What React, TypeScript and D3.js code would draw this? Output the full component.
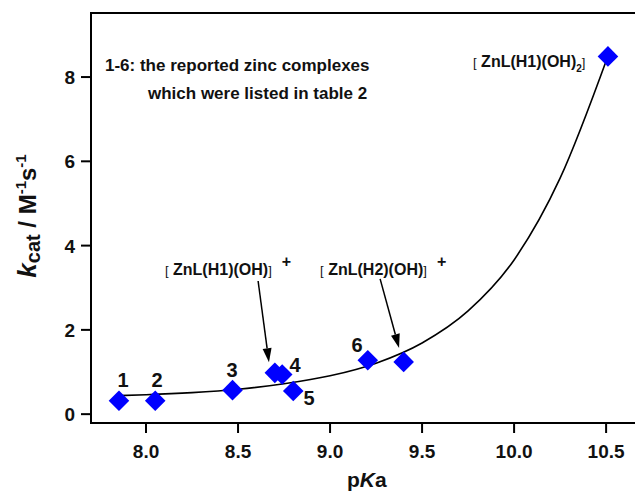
import React from "react";
import * as d3 from "d3";

// Data points (pKa, kcat)
const pointPKa = [7.853, 8.05, 8.47, 8.70, 8.74, 8.80, 9.205, 9.40, 10.51];
const pointK = [0.32, 0.32, 0.57, 0.98, 0.94, 0.55, 1.28, 1.24, 8.49];

// Fitted curve
const curvePKa = [7.85, 8.0, 8.25, 8.5, 8.75, 9.0, 9.25, 9.5, 9.75, 10.0, 10.25, 10.51];
const curveK = [0.44, 0.46, 0.51, 0.59, 0.72, 0.91, 1.21, 1.69, 2.45, 3.66, 5.6, 8.5];

// Numbered labels
const numText = ["1", "2", "3", "4", "5", "6"];
const numPKa = [7.875, 8.06, 8.467, 8.81, 8.886, 9.147];
const numK = [0.64, 0.64, 0.88, 1.0, 0.21, 1.47];

// Axis ticks
const xTicks = [8.0, 8.5, 9.0, 9.5, 10.0, 10.5];
const yTicks = [0, 2, 4, 6, 8];

// Arrows (start pKa, start k, end pKa, end k)
const arrowFromPKa = [8.609, 9.272];
const arrowFromK = [3.16, 3.21];
const arrowToPKa = [8.668, 9.375];
const arrowToK = [1.23, 1.57];

const W = 635;
const H = 498;
const FONT = "'Liberation Sans', Arial, Helvetica, sans-serif";

export default function App() {
  const x = d3.scaleLinear().domain([7.701, 10.657]).range([91, 635]);
  const y = d3.scaleLinear().domain([-0.21, 9.52]).range([423, 13]);

  const curveData = curvePKa.map((p, i) => [p, curveK[i]] as [number, number]);
  const line = d3
    .line<[number, number]>()
    .x((d) => x(d[0]))
    .y((d) => y(d[1]))
    .curve(d3.curveMonotoneX);

  const diamond = d3.symbol().type(d3.symbolDiamond2).size(270)();

  const [x0, x1] = x.range();
  const [yb, yt] = y.range();

  const arrows = arrowFromPKa.map((p, i) => {
    const sx = x(p), sy = y(arrowFromK[i]);
    const ex = x(arrowToPKa[i]), ey = y(arrowToK[i]);
    const ang = Math.atan2(ey - sy, ex - sx);
    const len = 14, half = 4.5;
    const bx = ex - len * Math.cos(ang), by = ey - len * Math.sin(ang);
    const px = -Math.sin(ang) * half, py = Math.cos(ang) * half;
    return { sx, sy, bx, by, ex, ey, head: `M${ex},${ey}L${bx + px},${by + py}L${bx - px},${by - py}Z` };
  });

  return (
    <svg
      width={W}
      height={H}
      style={{ position: "absolute", left: 0, top: 0, background: "#fff" }}
      fontFamily={FONT}
    >
      {/* frame */}
      <line x1={x0} x2={x1} y1={yt} y2={yt} stroke="#000" strokeWidth={2} />
      <line x1={x0} x2={x1} y1={yb} y2={yb} stroke="#000" strokeWidth={2} />
      <line x1={x0} x2={x0} y1={yt - 1} y2={yb + 1} stroke="#000" strokeWidth={2} />

      {/* x ticks */}
      {xTicks.map((t) => (
        <g key={"xt" + t}>
          <line x1={x(t)} x2={x(t)} y1={yb} y2={yb + 10} stroke="#000" strokeWidth={2} />
          <text x={x(t)} y={yb + 35} textAnchor="middle" fontSize={19} fontWeight="bold" fill="#111">
            {t.toFixed(1)}
          </text>
        </g>
      ))}
      {/* y ticks */}
      {yTicks.map((t) => (
        <g key={"yt" + t}>
          <line x1={x0 - 10} x2={x0} y1={y(t)} y2={y(t)} stroke="#000" strokeWidth={2} />
          <text x={x0 - 16} y={y(t) + 7} textAnchor="end" fontSize={19} fontWeight="bold" fill="#111">
            {t}
          </text>
        </g>
      ))}

      {/* axis titles */}
      <text x={x(9.2)} y={487} textAnchor="middle" fontSize={21} fontWeight="bold" fill="#111">
        p<tspan fontStyle="italic">K</tspan>a
      </text>
      <text
        transform={`translate(36,216) rotate(-90)`}
        textAnchor="middle"
        fontSize={24}
        fontWeight="bold"
        fill="#111"
      >
        <tspan fontStyle="italic" fontSize={26}>k</tspan>
        <tspan fontSize={20} dy={4}>cat</tspan>
        <tspan dy={-4}> / M</tspan>
        <tspan fontSize={15} dy={-10}>-1</tspan>
        <tspan dy={10}>s</tspan>
        <tspan fontSize={15} dy={-10}>-1</tspan>
      </text>

      {/* note */}
      <text x={105} y={71} fontSize={17} fontWeight="bold" fill="#111">
        1-6: the reported zinc complexes
      </text>
      <text x={148} y={99} fontSize={17} fontWeight="bold" fill="#111">
        which were listed in table 2
      </text>

      {/* fitted curve */}
      <path d={line(curveData) ?? ""} fill="none" stroke="#000" strokeWidth={1.6} />

      {/* points */}
      {pointPKa.map((p, i) => (
        <path key={"pt" + i} d={diamond ?? ""} transform={`translate(${x(p)},${y(pointK[i])})`} fill="#0000ff" />
      ))}

      {/* numbered labels */}
      {numText.map((t, i) => (
        <text key={"n" + i} x={x(numPKa[i])} y={y(numK[i])} textAnchor="middle" fontSize={20} fontWeight="bold" fill="#111">
          {t}
        </text>
      ))}

      {/* arrows */}
      {arrows.map((a, i) => (
        <g key={"ar" + i}>
          <line x1={a.sx} y1={a.sy} x2={a.bx} y2={a.by} stroke="#000" strokeWidth={1.5} />
          <path d={a.head} fill="#000" />
        </g>
      ))}

      {/* compound labels */}
      <text x={x(8.103)} y={y(3.3)} fill="#111">
        <tspan fontSize={13}>[</tspan>
        <tspan fontSize={16} fontWeight="bold"> ZnL(H1)(OH)</tspan>
        <tspan fontSize={13}>]</tspan>
        <tspan fontSize={16} fontWeight="bold" dy={-8} dx={10}>+</tspan>
      </text>
      <text x={x(8.946)} y={y(3.3)} fill="#111">
        <tspan fontSize={13}>[</tspan>
        <tspan fontSize={16} fontWeight="bold"> ZnL(H2)(OH)</tspan>
        <tspan fontSize={13}>]</tspan>
        <tspan fontSize={16} fontWeight="bold" dy={-8} dx={10}>+</tspan>
      </text>
      <text x={x(9.777)} y={y(8.24)} fill="#111">
        <tspan fontSize={13}>[</tspan>
        <tspan fontSize={16} fontWeight="bold"> ZnL(H1)(OH)</tspan>
        <tspan fontSize={10} fontWeight="bold" dy={5}>2</tspan>
        <tspan fontSize={13} dy={-5}>]</tspan>
      </text>
    </svg>
  );
}
